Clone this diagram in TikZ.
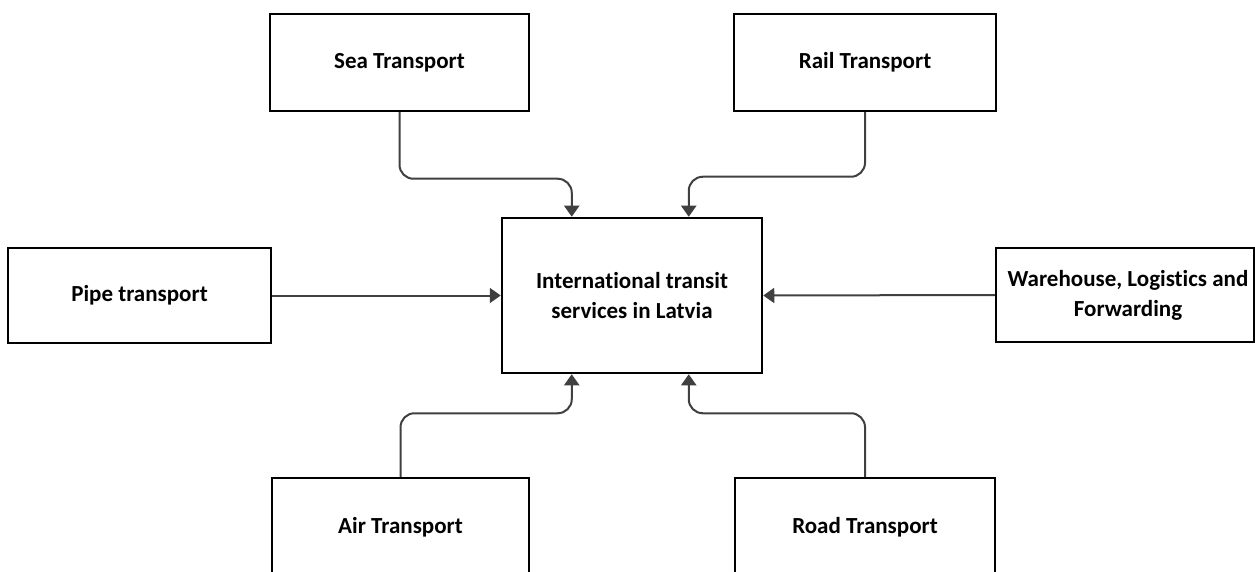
\documentclass[tikz,border=0pt]{standalone}
\usepackage{fontspec}
\setmainfont{Carlito}[Ligatures=NoCommon]
\usetikzlibrary{arrows.meta}
\begin{document}
\begin{tikzpicture}[x=1pt,y=-1pt,
  box/.style={draw=black,line width=2.5pt,fill=white,inner sep=0pt,align=center,
    font=\bfseries\fontsize{23}{30}\selectfont},
  conn/.style={draw=black!75,line width=2pt,rounded corners=14pt,
    -{Triangle[width=15pt,length=11pt]}}]
\clip (0,0) rectangle (1255,572);
\fill[white] (0,0) rectangle (1255,572);
\node[box,minimum width=259pt,minimum height=97pt] (sea) at (399.5,62.5) {Sea Transport};
\node[box,minimum width=262pt,minimum height=97pt] (rail) at (865,62.5) {Rail Transport};
\node[box,minimum width=263pt,minimum height=95pt] (pipe) at (139.5,295.5) {Pipe transport};
\node[box,minimum width=260pt,minimum height=155pt] (c) at (632,295.5) {International transit\\services in Latvia};
\node[box,minimum width=258pt,minimum height=94pt] (wh) at (1125,295) {\hspace*{6pt}Warehouse, Logistics and\\\hspace*{6pt}Forwarding};
\node[box,minimum width=257pt,minimum height=98pt] (air) at (400.5,527) {Air Transport};
\node[box,minimum width=260pt,minimum height=98pt] (road) at (865,527) {Road Transport};
\coordinate (ct1) at ([xshift=71pt]c.north west);
\coordinate (ct2) at ([xshift=188pt]c.north west);
\coordinate (cb1) at ([xshift=71pt]c.south west);
\coordinate (cb2) at ([xshift=188pt]c.south west);
\draw[conn] (sea.south) |- ([yshift=38pt]ct1) -- (ct1);
\draw[conn] (rail.south) |- ([yshift=40pt]ct2) -- (ct2);
\draw[conn] (air.north) |- ([yshift=-39pt]cb1) -- (cb1);
\draw[conn] (road.north) |- ([yshift=-39pt]cb2) -- (cb2);
\draw[conn] (pipe.east) -- (c.west);
\draw[conn] (wh.west) -- (c.east);
\end{tikzpicture}
\end{document}
